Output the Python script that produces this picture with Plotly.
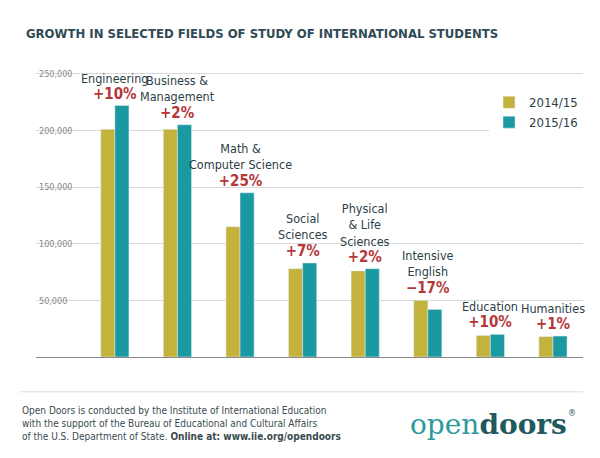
import plotly.graph_objects as go

fields = ["Engineering", "Business &<br>Management", "Math &<br>Computer Science",
          "Social<br>Sciences", "Physical<br>& Life<br>Sciences", "Intensive<br>English",
          "Education", "Humanities"]
growth = ["+10%", "+2%", "+25%", "+7%", "+2%", "\u221217%", "+10%", "+1%"]
y2014 = [201000, 201000, 115000, 78000, 76000, 50000, 19000, 18000]
y2015 = [222000, 205000, 145000, 83000, 78000, 42000, 20000, 18500]
tick_vals = [50000, 100000, 150000, 200000, 250000]

GOLD = "#c3b23b"
TEAL = "#1a9aa0"
RED = "#b5373a"
DARK = "#2c4047"
FONT = "DejaVu Sans Condensed, sans-serif"

xs = list(range(len(fields)))
fig = go.Figure()
fig.add_trace(go.Bar(x=xs, y=y2014, name="2014/15", marker_color=GOLD))
fig.add_trace(go.Bar(x=xs, y=y2015, name="2015/16", marker_color=TEAL))

for i, name in enumerate(fields):
    top = max(y2014[i], y2015[i])
    fig.add_annotation(x=i, y=top, yshift=1, yanchor="bottom", showarrow=False,
                       text=f"{name}<br><span style='color:{RED};font-size:15px'><b>{growth[i]}</b></span>",
                       font=dict(family=FONT, size=12.5, color=DARK), align="center")

# footer
fig.add_shape(type="line", xref="paper", yref="paper", x0=-0.03, x1=1.0, y0=-0.12, y1=-0.12,
              line=dict(color="#dddddd", width=1))
fig.add_annotation(xref="paper", yref="paper", x=-0.03, y=-0.16, xanchor="left", yanchor="top",
                   showarrow=False, align="left",
                   text="Open Doors is conducted by the Institute of International Education<br>"
                        "with the support of the Bureau of Educational and Cultural Affairs<br>"
                        "of the U.S. Department of State. <b>Online at: www.iie.org/opendoors</b>",
                   font=dict(family=FONT, size=10, color="#3a4a50"))
fig.add_annotation(xref="paper", yref="paper", x=0.975, y=-0.17, xanchor="right", yanchor="top",
                   showarrow=False,
                   text="<span style='color:#2a9a9a'>open</span><b>doors</b>",
                   font=dict(family="DejaVu Serif, serif", size=28, color="#1f5a5e"))
fig.add_annotation(xref="paper", yref="paper", x=0.99, y=-0.17, xanchor="right", yanchor="top",
                   showarrow=False, text="®", font=dict(family=FONT, size=9, color="#1f5a5e"))

fig.update_layout(
    width=600, height=458,
    margin=dict(l=28, r=25, t=59, b=109),
    paper_bgcolor="white", plot_bgcolor="white",
    title=dict(text="<b>GROWTH IN SELECTED FIELDS OF STUDY OF INTERNATIONAL STUDENTS</b>",
               x=0.03, xanchor="left", y=0.955,
               font=dict(family="DejaVu Sans Condensed, sans-serif", size=13, color="#2f4a55")),
    barmode="group", bargap=0.55, bargroupgap=0,
    legend=dict(x=1.0, xanchor="right", y=0.93, yanchor="top",
                font=dict(family=FONT, size=13, color=DARK)),
    xaxis=dict(range=[-1.26, 7.48], showticklabels=False, showgrid=False, zeroline=False,
               showline=True, linecolor="#888888", linewidth=1),
    yaxis=dict(range=[0, 256000], tickvals=tick_vals, tickformat=",", ticklabelposition="inside",
               gridcolor="#d9d9d9", zeroline=False,
               tickfont=dict(family=FONT, size=9, color="#888888")),
)
fig.write_html("out.html")
